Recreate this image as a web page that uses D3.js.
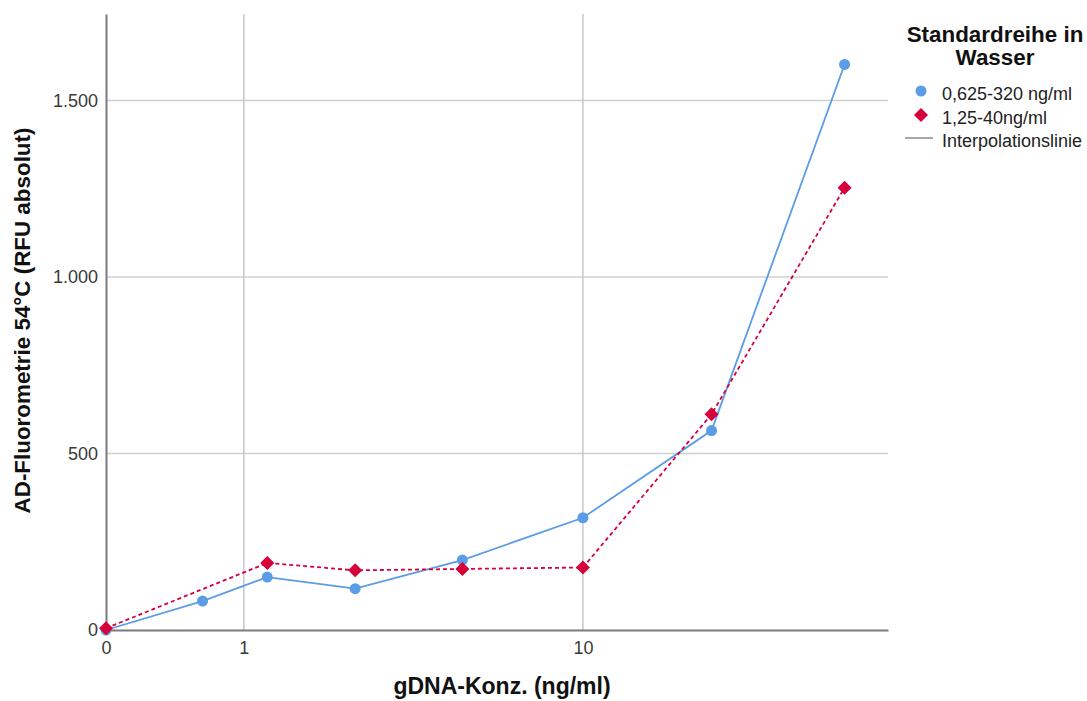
<!DOCTYPE html>
<html>
<head>
<meta charset="utf-8">
<script src="https://cdn.jsdelivr.net/npm/d3@7"></script>
<style>
  html, body { margin: 0; padding: 0; background: #fff; }
  svg { display: block; font-family: "Liberation Sans", Arial, sans-serif; }
</style>
</head>
<body>
<svg id="chart" width="1087" height="701"></svg>
<script>
// Concentrations (ng/ml) and fluorescence readings (RFU)
const concBlue = [0, 0.625, 1.25, 2.5, 5, 10, 20, 40];
const rfuBlue  = [0, 82, 150, 117, 198, 318, 565, 1602];
const concRed  = [0, 1.25, 2.5, 5, 10, 20, 40];
const rfuRed   = [5, 190, 169, 173, 177, 611, 1253];

const xTicks = [0, 1, 10];
const yTicks = [0, 500, 1000, 1500];

const seriesNames = ["0,625-320 ng/ml", "1,25-40ng/ml"];
const legendTitle = ["Standardreihe in", "Wasser"];
const interpLabel = "Interpolationslinie";
const xTitle = "gDNA-Konz. (ng/ml)";
const yTitle = "AD-Fluorometrie 54°C (RFU absolut)";

const blueColor = "#5b9ce6";
const redColor = "#d6003b";

const svg = d3.select("#chart");
const plotLeft = 106, plotRight = 888, plotTop = 14, plotBottom = 630;

// symlog with constant 1 gives log(1 + x), so 0 sits at the axis origin
const x = d3.scaleSymlog().constant(1).domain([0, 50]).range([plotLeft, plotRight]);
const y = d3.scaleLinear().domain([0, 1745]).range([plotBottom, plotTop]);

const deFormat = d3.formatLocale({decimal: ",", thousands: ".", grouping: [3], currency: ["", " €"]}).format(",d");

// Gridlines
svg.append("g").selectAll("line").data(yTicks.filter(d => d > 0)).join("line")
  .attr("x1", plotLeft).attr("x2", plotRight)
  .attr("y1", d => y(d)).attr("y2", d => y(d))
  .attr("stroke", "#d0d0d0").attr("stroke-width", 1.5);
svg.append("g").selectAll("line").data(xTicks.filter(d => d > 0)).join("line")
  .attr("x1", d => x(d)).attr("x2", d => x(d))
  .attr("y1", plotTop).attr("y2", plotBottom)
  .attr("stroke", "#c8c8c8").attr("stroke-width", 1.5);

// Axes
const xAxis = svg.append("g").attr("transform", `translate(0,${plotBottom})`)
  .call(d3.axisBottom(x).tickValues(xTicks).tickFormat(d3.format("d")).tickSize(0).tickPadding(11));
const yAxis = svg.append("g").attr("transform", `translate(${plotLeft},0)`)
  .call(d3.axisLeft(y).tickValues(yTicks).tickFormat(deFormat).tickSize(0).tickPadding(8));
[xAxis, yAxis].forEach(g => {
  g.select(".domain").attr("stroke", "#7a7a7a").attr("stroke-width", 2);
  g.selectAll("text").attr("font-size", 18).attr("fill", "#3a3a3a")
    .attr("font-family", "'Liberation Sans', Arial, sans-serif");
});

// Axis titles
svg.append("text").attr("x", 502).attr("y", 694)
  .attr("text-anchor", "middle").attr("font-size", 23).attr("font-weight", "bold")
  .attr("fill", "#111").text(xTitle);
svg.append("text").attr("transform", "translate(30,320.5) rotate(-90)")
  .attr("text-anchor", "middle").attr("font-size", 22.4).attr("font-weight", "bold")
  .attr("fill", "#111").text(yTitle);

// Lines
const blueData = concBlue.map((c, i) => [c, rfuBlue[i]]);
const redData = concRed.map((c, i) => [c, rfuRed[i]]);
const line = d3.line().x(d => x(d[0])).y(d => y(d[1]));

svg.append("path").datum(blueData).attr("d", line)
  .attr("fill", "none").attr("stroke", blueColor).attr("stroke-width", 1.8);
svg.append("g").selectAll("circle").data(blueData).join("circle")
  .attr("cx", d => x(d[0])).attr("cy", d => y(d[1])).attr("r", 5.5)
  .attr("fill", blueColor);

svg.append("path").datum(redData).attr("d", line)
  .attr("fill", "none").attr("stroke", redColor).attr("stroke-width", 1.8)
  .attr("stroke-dasharray", "4,3");
const diamond = d3.symbol().type(d3.symbolDiamond2).size(125);
svg.append("g").selectAll("path").data(redData).join("path")
  .attr("d", diamond)
  .attr("transform", d => `translate(${x(d[0])},${y(d[1])})`)
  .attr("fill", redColor);

// Legend
const lg = svg.append("g");
legendTitle.forEach((t, i) => {
  lg.append("text").attr("x", 995).attr("y", 42 + i * 23)
    .attr("text-anchor", "middle").attr("font-size", 22.4).attr("font-weight", "bold")
    .attr("fill", "#111").text(t);
});
lg.append("circle").attr("cx", 921).attr("cy", 91).attr("r", 5.5).attr("fill", blueColor);
lg.append("path").attr("d", diamond).attr("transform", "translate(921,115)").attr("fill", redColor);
lg.append("line").attr("x1", 905).attr("x2", 933).attr("y1", 138).attr("y2", 138)
  .attr("stroke", "#a8a8a8").attr("stroke-width", 2);
[seriesNames[0], seriesNames[1], interpLabel].forEach((t, i) => {
  lg.append("text").attr("x", 942).attr("y", 100 + i * 23.5)
    .attr("font-size", 18).attr("fill", "#222").text(t);
});
</script>
</body>
</html>
